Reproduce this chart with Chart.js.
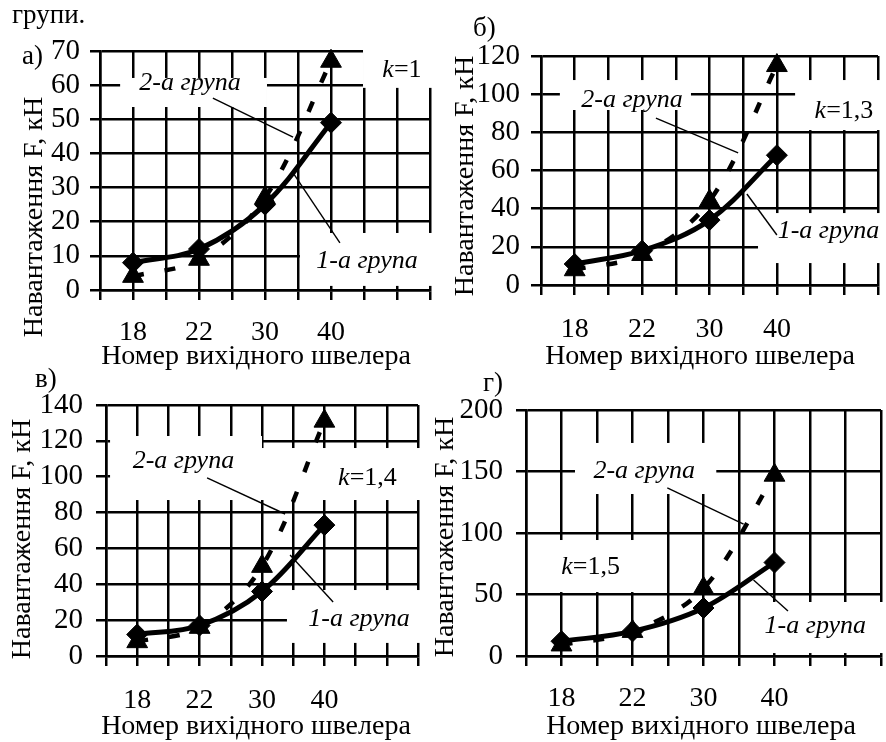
<!DOCTYPE html>
<html>
<head>
<meta charset="utf-8">
<script src="https://cdn.jsdelivr.net/npm/chart.js@4.4.1/dist/chart.umd.min.js"></script>
<style>
  html, body { margin: 0; padding: 0; background: #fff; overflow: hidden; width: 886px; height: 742px; }
  canvas { position: absolute; left: 0; top: 0; }
</style>
</head>
<body>
<canvas id="chartA" width="900" height="742"></canvas>
<canvas id="chartB" width="900" height="742"></canvas>
<canvas id="chartC" width="900" height="742"></canvas>
<canvas id="chartD" width="900" height="742"></canvas>
<script>
// channel numbers on the x axis
const channelSizes = ['18', '22', '30', '40'];

// load F, kN — group 1 (solid, diamonds) and group 2 (dashed, triangles)
const loadA_group1 = [8, 12, 25, 49];
const loadA_group2 = [4, 9, 27, 67];
const loadB_group1 = [11, 18, 34, 68];
const loadB_group2 = [8, 16, 44, 115];
const loadC_group1 = [12, 17, 36, 73];
const loadC_group2 = [8, 16, 50, 131];
const loadD_group1 = [12, 20, 39, 76];
const loadD_group2 = [9, 20, 55, 147];

const yMaxes = [70, 120, 140, 200];
const ySteps = [10, 20, 20, 50];
const kValues = ['1', '1,3', '1,4', '1,5'];
const panelLetters = ['а)', 'б)', 'в)', 'г)'];

const xTitle = 'Номер вихідного швелера';
const yTitle = 'Навантаження F, кН';
const group1Name = '1-а група';
const group2Name = '2-а група';

const serif = "'Liberation Serif', 'Times New Roman', serif";

// layout per panel (page pixels for the plot frame, value units for notes)
const panels = [
  { id: 'chartA', g1: loadA_group1, g2: loadA_group2,
    area: { l: 100, r: 430, t: 51, b: 290 }, tickPad: 19, yPad: 10,
    letterPos: [22, 64], yTitlePos: [35, 217], xTitlePos: [256, 357],
    extra: [['групи.', 12, 23]],
    boxes: [[0.61, 62.1, 5.06, 53.6], [7.97, 71.8, 10.2, 59.2], [6.06, 16.7, 10.2, 1.2]],
    leaders: [[3.42, 56.2, 5.85, 44.8], [7.27, 13.8, 5.85, 34.3]],
    notes: [[2.73, 58.6], [8.09, 6.4]], kPos: [9.15, 62.4] },
  { id: 'chartB', g1: loadB_group1, g2: loadB_group2,
    area: { l: 541, r: 878, t: 56, b: 285 }, tickPad: 21, yPad: 11,
    letterPos: [473, 36], yTitlePos: [466, 176], xTitlePos: [700, 357],
    extra: [],
    boxes: [[0.56, 107.4, 4.45, 91.7], [7.54, 107.4, 10.2, 81.2], [6.44, 37.7, 10.2, 11.5]],
    leaders: [[3.41, 87.5, 5.85, 69.2], [7.0, 26.2, 6.11, 47.7]],
    notes: [[2.70, 93.3], [8.53, 24.6]], kPos: [8.99, 87.5] },
  { id: 'chartC', g1: loadC_group1, g2: loadC_group2,
    area: { l: 106, r: 418, t: 405, b: 656 }, tickPad: 21, yPad: 13,
    letterPos: [35, 387], yTitlePos: [23, 539], xTitlePos: [256, 727],
    extra: [],
    boxes: [[0.13, 122.7, 5.0, 87.0], [5.0, 116.0, 10.2, 87.0], [5.8, 36.8, 10.2, 7.3]],
    leaders: [[3.24, 99.3, 5.74, 79.2], [7.28, 30.1, 5.90, 56.3]],
    notes: [[2.48, 104.9], [8.11, 16.7]], kPos: [8.38, 95.4] },
  { id: 'chartD', g1: loadD_group1, g2: loadD_group2,
    area: { l: 526, r: 888, t: 410, b: 656 }, tickPad: 19, yPad: 13,
    letterPos: [483, 391], yTitlePos: [446, 537], xTitlePos: [701, 727],
    extra: [],
    boxes: [[1.38, 173.2, 5.36, 131.7], [0.80, 94.3, 3.43, 52.0], [6.08, 43.9, 10.2, 2.4]],
    leaders: [[3.98, 136.6, 6.13, 107.3], [7.38, 36.6, 6.41, 61.8]],
    notes: [[3.33, 144.7], [8.15, 18.7]], kPos: [1.82, 66.7] }
];

const Y_AXIS_W = 90;
const X_AXIS_H = 80;

function notesPlugin(p, k, letter) {
  return {
    id: 'notes_' + p.id,
    beforeDatasetsDraw(chart) {
      const ctx = chart.ctx;
      const xs = chart.scales.x, ys = chart.scales.y;
      const px = v => xs.getPixelForValue(v);
      const py = v => ys.getPixelForValue(v);
      ctx.save();
      // white label boxes hide the grid
      ctx.fillStyle = '#fff';
      p.boxes.forEach(([x0, y0, x1, y1]) => {
        ctx.fillRect(px(x0), py(y0), px(x1) - px(x0), py(y1) - py(y0));
      });
      ctx.strokeStyle = '#000';
      ctx.lineWidth = 1.4;
      p.leaders.forEach(([x0, y0, x1, y1]) => {
        ctx.beginPath();
        ctx.moveTo(px(x0), py(y0));
        ctx.lineTo(px(x1), py(y1));
        ctx.stroke();
      });
      ctx.fillStyle = '#000';
      ctx.textBaseline = 'alphabetic';
      ctx.textAlign = 'center';
      ctx.font = 'italic 26px ' + serif;
      ctx.fillText(group2Name, px(p.notes[0][0]), py(p.notes[0][1]));
      ctx.fillText(group1Name, px(p.notes[1][0]), py(p.notes[1][1]));
      // k=..
      const italic = 'italic 26px ' + serif, upright = '26px ' + serif;
      const rest = '=' + k;
      ctx.font = italic;
      const wk = ctx.measureText('k').width;
      ctx.font = upright;
      const wr = ctx.measureText(rest).width;
      const x = px(p.kPos[0]) - (wk + wr) / 2, y = py(p.kPos[1]);
      ctx.textAlign = 'left';
      ctx.font = italic;
      ctx.fillText('k', x, y);
      ctx.font = upright;
      ctx.fillText(rest, x + wk, y);
      ctx.restore();
    },
    afterDraw(chart) {
      const ctx = chart.ctx;
      ctx.save();
      ctx.fillStyle = '#000';
      ctx.textAlign = 'left';
      ctx.textBaseline = 'alphabetic';
      ctx.font = '27px ' + serif;
      ctx.fillText(letter, p.letterPos[0], p.letterPos[1]);
      p.extra.forEach(([t, x, y]) => ctx.fillText(t, x, y));
      ctx.textAlign = 'center';
      ctx.textBaseline = 'middle';
      ctx.font = '28px ' + serif;
      ctx.fillText(xTitle, p.xTitlePos[0], p.xTitlePos[1]);
      ctx.font = '28px ' + serif;
      ctx.translate(p.yTitlePos[0], p.yTitlePos[1]);
      ctx.rotate(-Math.PI / 2);
      ctx.fillText(yTitle, 0, 0);
      ctx.restore();
    }
  };
}

panels.forEach((p, n) => {
  const ctx = document.getElementById(p.id);
  const toPoints = vals => channelSizes.map((c, i) => ({ x: 2 * i + 1, y: vals[i] }));
  new Chart(ctx, {
    type: 'line',
    data: {
      datasets: [
        {
          label: group1Name,
          data: toPoints(p.g1),
          borderColor: '#000',
          backgroundColor: '#000',
          borderWidth: 5,
          tension: 0.35,
          pointStyle: 'rectRot',
          pointRadius: 10.5,
          pointBorderWidth: 1,
          clip: false
        },
        {
          label: group2Name,
          data: toPoints(p.g2),
          borderColor: '#000',
          backgroundColor: '#000',
          borderWidth: 4.5,
          borderDash: [11, 21],
          tension: 0.35,
          pointStyle: 'triangle',
          pointRadius: 12,
          pointBorderWidth: 1,
          clip: false
        }
      ]
    },
    options: {
      responsive: false,
      animation: false,
      events: [],
      layout: {
        padding: {
          left: p.area.l - Y_AXIS_W,
          top: p.area.t,
          right: 900 - p.area.r,
          bottom: 742 - p.area.b - X_AXIS_H
        }
      },
      plugins: { legend: { display: false }, tooltip: { enabled: false } },
      scales: {
        x: {
          type: 'linear',
          min: 0,
          max: 10,
          afterFit: s => { s.height = X_AXIS_H; },
          grid: { color: '#000', lineWidth: 2.5, tickLength: 10 },
          border: { color: '#000', width: 2.5 },
          ticks: {
            stepSize: 1,
            autoSkip: false,
            maxRotation: 0,
            color: '#000',
            padding: p.tickPad,
            font: { family: serif, size: 28, lineHeight: 1 },
            callback: v => (v % 2 === 1 ? (channelSizes[(v - 1) / 2] ?? '') : '')
          }
        },
        y: {
          min: 0,
          max: yMaxes[n],
          afterFit: s => { s.width = Y_AXIS_W; },
          grid: { color: '#000', lineWidth: 2.5, tickLength: 10 },
          border: { color: '#000', width: 2.5 },
          ticks: {
            stepSize: ySteps[n],
            color: '#000',
            padding: p.yPad,
            font: { family: serif, size: 29, lineHeight: 1 }
          }
        }
      }
    },
    plugins: [notesPlugin(p, kValues[n], panelLetters[n])]
  });
});
</script>
</body>
</html>
